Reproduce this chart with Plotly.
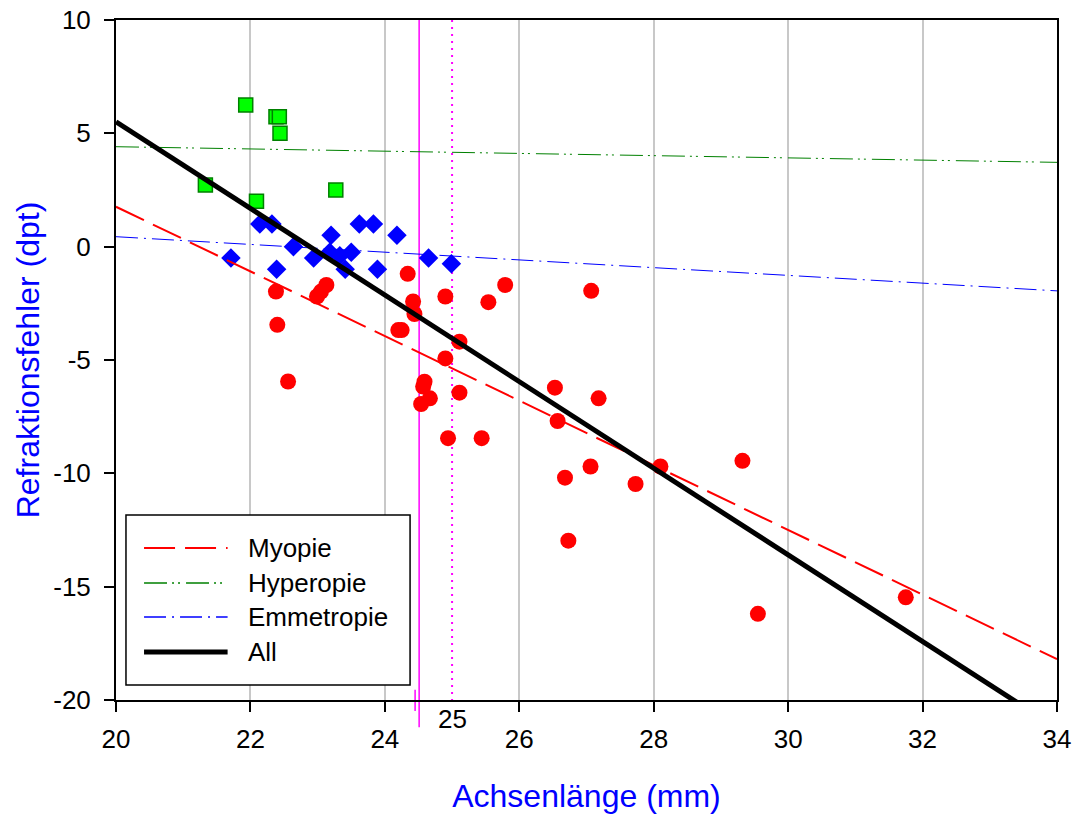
import plotly.graph_objects as go

# ---------------- data ----------------
hyper_x = [21.93, 21.33, 22.09, 22.38, 22.43, 22.44, 23.27]
hyper_y = [6.25, 2.72, 2.0, 5.73, 5.73, 5.0, 2.5]

emme_x = [21.71, 22.14, 22.32, 22.39, 22.64, 22.94, 23.20, 23.18, 23.33, 23.50,
          23.41, 23.62, 23.83, 23.89, 24.18, 24.65, 24.99]
emme_y = [-0.5, 1.0, 1.0, -1.0, 0.0, -0.5, 0.5, -0.25, -0.4, -0.25,
          -1.0, 1.0, 1.0, -1.0, 0.5, -0.5, -0.75]

myo_x = [24.34, 25.79, 27.07, 24.90, 25.54, 24.42, 24.44, 24.20, 24.25, 25.11,
         24.90, 24.59, 24.57, 24.67, 24.54, 25.11, 26.53, 27.18, 26.57, 24.94,
         25.44, 27.06, 26.68, 27.73, 28.10, 29.32, 26.73, 31.75, 29.55, 22.38,
         22.40, 22.56, 22.99, 23.05, 23.13]
myo_y = [-1.2, -1.69, -1.95, -2.2, -2.45, -2.42, -2.97, -3.68, -3.68, -4.19,
         -4.93, -5.96, -6.17, -6.69, -6.94, -6.44, -6.22, -6.69, -7.69, -8.45,
         -8.45, -9.70, -10.19, -10.47, -9.70, -9.45, -12.97, -15.47, -16.2, -1.98,
         -3.45, -5.95, -2.2, -1.98, -1.69]

# regression lines (values at x = 20 and x = 34)
fit_x = [20, 34]
myo_fit = [1.76, -18.2]
hyper_fit = [4.41, 3.72]
emme_fit = [0.44, -1.95]
all_fit = [5.51, -21.24]

# reference lines (mm)
ref_solid = 24.51
ref_short = 24.45
ref_dotted = 25.0

x_ticks = [20, 22, 24, 26, 28, 30, 32, 34]
y_ticks = [-20, -15, -10, -5, 0, 5, 10]
y_ticktext = ["-20", "-15", "-10", "-5", "0", "5", "10"]

legend_names = ["Myopie", "Hyperopie", "Emmetropie", "All"]

# ---------------- figure ----------------
FONT = "Liberation Sans, Arial, sans-serif"
TICK_SIZE = 26
fig = go.Figure()

fig.add_trace(go.Scatter(x=myo_x, y=myo_y, mode="markers",
                         marker=dict(symbol="circle", size=16, color="#ff0000",
                                     line=dict(width=0)),
                         showlegend=False))
fig.add_trace(go.Scatter(x=emme_x, y=emme_y, mode="markers",
                         marker=dict(symbol="diamond", size=15, color="#0000ff",
                                     line=dict(width=0)),
                         showlegend=False))
fig.add_trace(go.Scatter(x=hyper_x, y=hyper_y, mode="markers",
                         marker=dict(symbol="square", size=14, color="#00ff00",
                                     line=dict(width=1.5, color="#008000")),
                         showlegend=False))

line_styles = [
    (myo_fit, "#ff0000", 2, "31px,10px"),
    (hyper_fit, "#008000", 1, "23px,5px,2px,4px,2px,6px"),
    (emme_fit, "#0000ff", 1, "22px,6px,2px,6px"),
    (all_fit, "#000000", 5, "solid"),
]
for name, (vals, col, w, dash) in zip(legend_names, line_styles):
    fig.add_trace(go.Scatter(x=fit_x, y=vals, mode="lines", name=name,
                             line=dict(color=col, width=w, dash=dash),
                             showlegend=False))

# magenta reference lines
fig.add_shape(type="line", xref="x", yref="paper", x0=ref_solid, x1=ref_solid,
              y0=1, y1=-0.04, line=dict(color="#ff00ff", width=1.5), layer="between")
fig.add_shape(type="line", xref="x", yref="paper", x0=ref_short, x1=ref_short,
              y0=0.015, y1=-0.016, line=dict(color="#ff00ff", width=1.5), layer="between")
fig.add_shape(type="line", xref="x", yref="paper", x0=ref_dotted, x1=ref_dotted,
              y0=1, y1=-0.008, line=dict(color="#ff00ff", width=2, dash="2px,5px"),
              layer="between")
fig.add_annotation(x=ref_dotted, xref="x", y=-0.028, yref="paper", text="25",
                   showarrow=False, font=dict(family=FONT, size=TICK_SIZE, color="black"),
                   xanchor="center", yanchor="middle")

# manual legend (paper coords)
lx0, lx1, ly0, ly1 = 0.0106, 0.3125, 0.022, 0.272
fig.add_shape(type="rect", xref="paper", yref="paper", x0=lx0, x1=lx1, y0=ly0, y1=ly1,
              line=dict(color="black", width=1.5), fillcolor="white", layer="above")
row_y = [0.2235, 0.172, 0.122, 0.0705]
for name, (vals, col, w, dash), ry in zip(legend_names, line_styles, row_y):
    fig.add_shape(type="line", xref="paper", yref="paper", x0=0.0298, x1=0.1186,
                  y0=ry, y1=ry, line=dict(color=col, width=w + (0.5 if w == 1 else 0), dash=dash),
                  layer="above")
    fig.add_annotation(x=0.1385, xref="paper", y=ry, yref="paper", text=name,
                       showarrow=False, xanchor="left", yanchor="middle",
                       font=dict(family=FONT, size=TICK_SIZE, color="black"))

fig.update_layout(
    width=1077, height=814,
    margin=dict(l=116, r=20, t=20, b=114, autoexpand=False),
    paper_bgcolor="white", plot_bgcolor="white",
    font=dict(family=FONT, size=TICK_SIZE, color="black"),
    showlegend=False,
)
fig.update_xaxes(range=[20, 34], tickvals=x_ticks, ticks="outside", ticklen=10,
                 tickwidth=2, tickcolor="black", showline=True, linewidth=2,
                 linecolor="black", mirror=True, showgrid=True, gridcolor="#c8c8c8",
                 gridwidth=1.5, zeroline=False, automargin=False,
                 ticklabelstandoff=5,
                 tickfont=dict(family=FONT, size=TICK_SIZE, color="black"),
                 title=dict(text="Achsenlänge (mm)", standoff=32,
                            font=dict(family=FONT, size=32, color="#0000ff")))
fig.update_yaxes(range=[-20, 10], tickvals=y_ticks, ticktext=y_ticktext,
                 ticks="outside", ticklen=10, tickwidth=2, tickcolor="black",
                 showline=True, linewidth=2, linecolor="black", mirror=True,
                 showgrid=False, zeroline=False, automargin=False,
                 ticklabelstandoff=8,
                 tickfont=dict(family=FONT, size=TICK_SIZE, color="black"),
                 title=dict(text="Refraktionsfehler (dpt)", standoff=4,
                            font=dict(family=FONT, size=32, color="#0000ff")))

fig.write_html("out.html")
